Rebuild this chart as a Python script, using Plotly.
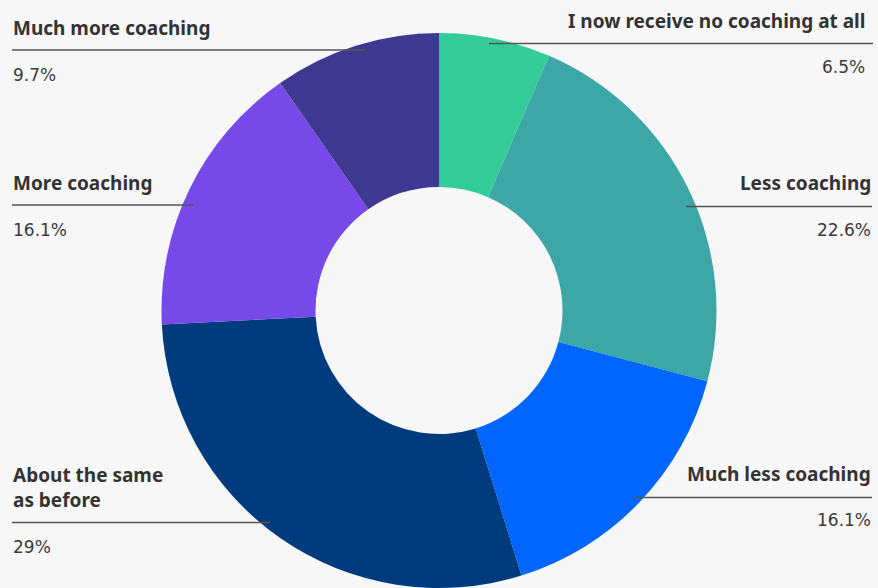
import plotly.graph_objects as go

# ---- data ----
categories = ["I now receive no coaching at all", "Less coaching", "Much less coaching",
              "About the same as before", "More coaching", "Much more coaching"]
display_labels = ["I now receive no coaching at all", "Less coaching", "Much less coaching",
                  "About the same<br>as before", "More coaching", "Much more coaching"]
values = [6.5, 22.6, 16.1, 29, 16.1, 9.7]
colors = ["#33CC99", "#3DA6A6", "#0066FF", "#003B7E", "#7649E8", "#3F3891"]

W, H = 878, 588
BG = "#F7F7F7"
TXT = "#333333"

fig = go.Figure(go.Pie(
    labels=categories, values=values, sort=False, direction="clockwise", rotation=0,
    hole=0.445, marker=dict(colors=colors, line=dict(width=0)),
    textinfo="none", showlegend=False, hoverinfo="label+percent",
    domain=dict(x=[159 / W, 719 / W], y=[0, 1 - 33 / H]),
))

def px(x, y):
    return x / W, 1 - y / H

# label layout (pixel positions): side, title center y, line y, line x0, line x1, value center y, text x
layout_spec = [
    ("right", 21, 43.5, 489, 873, 67, 867),
    ("right", 183, 206.5, 686, 872, 229.5, 873),
    ("right", 474, 497.5, 633, 872, 520, 873),
    ("left", 487.5, 522.5, 12, 270, 546.5, 11),
    ("left", 183, 205, 12, 193, 229.5, 11),
    ("left", 28.5, 50, 12, 366, 74.5, 11),
]

annotations = []
shapes = []
for lab, val, (side, ty, ly, x0, x1, vy, tx) in zip(display_labels, values, layout_spec):
    anchor = "left" if side == "left" else "right"
    ax, ay = px(tx, ty)
    annotations.append(dict(x=ax, y=ay, xref="paper", yref="paper", text=f"<b>{lab}</b>",
                            showarrow=False, xanchor=anchor, yanchor="middle", align=anchor,
                            font=dict(family="Noto Sans", size=19, color=TXT)))
    vx, vyy = px(tx, vy)
    annotations.append(dict(x=vx, y=vyy, xref="paper", yref="paper", text=f"{val:g}%",
                            showarrow=False, xanchor=anchor, yanchor="middle",
                            font=dict(family="DejaVu Sans", size=17, color="#3a3a3a")))
    sx0, sy = px(x0, ly)
    sx1, _ = px(x1, ly)
    shapes.append(dict(type="line", xref="paper", yref="paper", x0=sx0, x1=sx1, y0=sy, y1=sy,
                       line=dict(color="#555555", width=1.5), layer="above"))

fig.update_layout(
    width=W, height=H, margin=dict(l=0, r=0, t=0, b=0),
    paper_bgcolor=BG, plot_bgcolor=BG,
    annotations=annotations, shapes=shapes,
)

fig.write_html("out.html", config={"displayModeBar": False},
               post_script="document.body.style.margin='0';document.body.style.overflow='hidden';"
                           "document.documentElement.style.overflow='hidden';")
